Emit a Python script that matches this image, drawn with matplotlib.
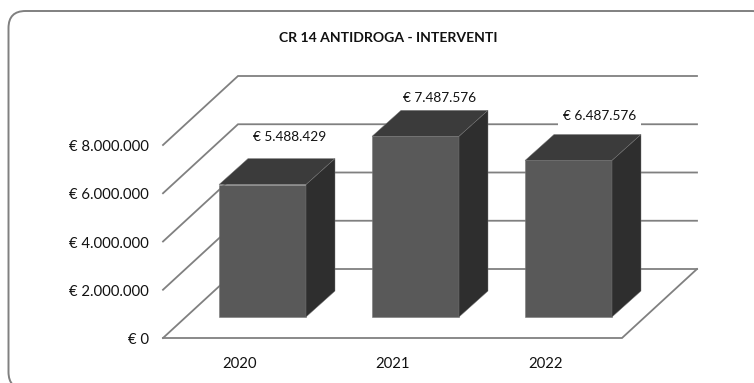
import matplotlib
matplotlib.use("Agg")
import matplotlib.pyplot as plt
from matplotlib.patches import FancyBboxPatch, Polygon

years = ["2020", "2021", "2022"]
values = [5488429, 7487576, 6487576]
value_labels = ["€ 5.488.429", "€ 7.487.576", "€ 6.487.576"]
tick_values = [0, 2000000, 4000000, 6000000, 8000000]
tick_labels = ["€ 0", "€ 2.000.000", "€ 4.000.000", "€ 6.000.000", "€ 8.000.000"]
title = "CR 14 ANTIDROGA - INTERVENTI"

plt.rcParams["font.family"] = ["Lato", "DejaVu Sans"]

W, H = 754, 383
LINE = "#808080"
FRONT = "#595959"
TOP = "#3b3b3b"
SIDE = "#2e2e2e"
TEXT = "#111111"

# layout of the 3d box, in pixels
floor_y = 338
px_per_value = 193 / 8000000
left, right = 163, 622
depth_x, depth_y = 75, -69
bar_w = 87
bar_step = 153
bar_x0 = 219
bar_base = 317
bar_dx, bar_dy = 29, -26

# where the value labels sit relative to the bar's top left corner
label_dx = [70.5, 67.5, 74.5]
label_dy = [-48, -38, -44]


def scale(v):
    return v * px_per_value


fig = plt.figure(figsize=(W / 100, H / 100), dpi=100)
ax = fig.add_axes([0, 0, 1, 1])
ax.set_xlim(0, W)
ax.set_ylim(H, 0)
ax.axis("off")

# frame runs off the right and bottom edges of the picture
ax.add_patch(FancyBboxPatch((8.5, 11), 760, 378, boxstyle="round,pad=0,rounding_size=17",
                            fc="white", ec=LINE, lw=1.4, zorder=1))
ax.text(388, 37.5, title, ha="center", va="center", fontsize=10.1, fontweight="bold",
        color=TEXT, zorder=6)

# walls and floor
for v, lab in zip(tick_values, tick_labels):
    y = floor_y - scale(v)
    back_x = left + depth_x
    back_y = y + depth_y
    ax.plot([left, back_x, right + depth_x], [y, back_y, back_y], color=LINE, lw=1.3,
            solid_joinstyle="miter", zorder=2)
    ax.text(148.5, y + 2, lab, ha="right", va="center", fontsize=10.7, color=TEXT, zorder=6)
ax.plot([left, right, right + depth_x], [floor_y, floor_y, floor_y + depth_y], color=LINE,
        lw=1.3, solid_joinstyle="miter", zorder=2)

# bars
for i, (year, v, lab) in enumerate(zip(years, values, value_labels)):
    x0 = bar_x0 + i * bar_step
    x1 = x0 + bar_w
    top = bar_base - scale(v)
    ax.add_patch(Polygon([(x0, bar_base), (x1, bar_base), (x1, top), (x0, top)], fc=FRONT,
                         ec="#777777", lw=0.4, zorder=3))
    ax.add_patch(Polygon([(x0, top), (x1, top), (x1 + bar_dx, top + bar_dy), (x0 + bar_dx, top + bar_dy)],
                         fc=TOP, ec="#777777", lw=0.3, zorder=3))
    ax.add_patch(Polygon([(x1, bar_base), (x1 + bar_dx, bar_base + bar_dy), (x1 + bar_dx, top + bar_dy), (x1, top)],
                         fc=SIDE, ec="#777777", lw=0.3, zorder=3))
    ax.text(x0 + label_dx[i], top + label_dy[i], lab, ha="center", va="center", fontsize=9.8,
            color=TEXT, zorder=5, bbox=dict(fc="white", ec="none", pad=3.2))
    ax.text(x0 + 21, 364, year, ha="center", va="center", fontsize=10.7, color=TEXT, zorder=6)

fig.savefig("out.png", dpi=100)
